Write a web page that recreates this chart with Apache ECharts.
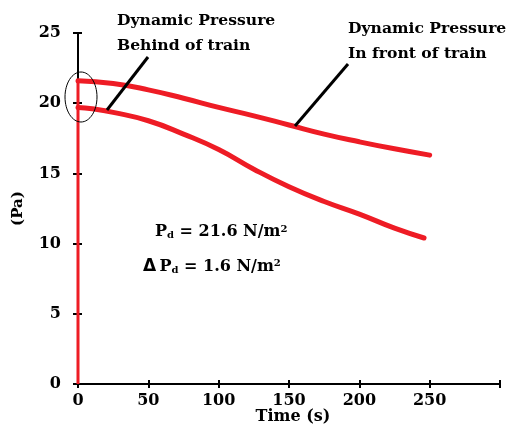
<!DOCTYPE html>
<html><head><meta charset="utf-8">
<script src="https://cdn.jsdelivr.net/npm/echarts@6/dist/echarts.min.js"></script>
<style>html,body{margin:0;padding:0;background:#fff}#c{width:509px;height:426px}</style>
</head><body><div id="c"></div>
<script>
const frontTime = [0, 25, 50, 75, 100, 125, 150, 175, 200, 225, 250];
const frontVals = [21.6, 21.4, 20.95, 20.35, 19.7, 19.1, 18.45, 17.8, 17.25, 16.75, 16.3];
const behindTime = [0, 10, 25, 50, 75, 100, 125, 150, 175, 200, 225, 246];
const behindVals = [19.7, 19.6, 19.35, 18.75, 17.8, 16.7, 15.3, 14.05, 13.0, 12.1, 11.1, 10.4];
const riseTime = [0, 0];
const riseVals = [0, 21.6];
const xTicks = [0, 50, 100, 150, 200, 250, 300];
const yTicks = [0, 5, 10, 15, 20, 25];
const xName = 'Time (s)';
const yName = '(Pa)';

const F = '"DejaVu Serif", serif';
const chart = echarts.init(document.getElementById('c'));
const pair = (xs, ys) => xs.map((x, i) => [x, ys[i]]);
const RED = '#ee1c25';
chart.setOption({
  animation: false,
  grid: {left: 78, right: 9, top: 33, bottom: 42, containLabel: false, outerBoundsMode: 'none'},
  xAxis: [{
    type: 'value', min: 0, max: 300, interval: 50,
    axisLine: {lineStyle: {color: '#000', width: 2}},
    axisTick: {show: true, length: 4, lineStyle: {color: '#000', width: 2}},
    splitLine: {show: false},
    axisLabel: {color: '#000', fontFamily: F, fontWeight: 'bold', fontSize: 16, margin: 9,
      formatter: v => v === 300 ? '' : String(v)}
  }, {
    type: 'value', min: 0, max: 300, interval: 50, position: 'bottom',
    axisLine: {show: false},
    axisTick: {show: true, inside: true, length: 4, lineStyle: {color: '#000', width: 2}},
    axisLabel: {show: false}, splitLine: {show: false}
  }],
  yAxis: [{
    type: 'value', min: 0, max: 25, interval: 5,
    axisLine: {show: true, lineStyle: {color: '#000', width: 2}},
    axisTick: {show: true, length: 5, lineStyle: {color: '#000', width: 2}},
    splitLine: {show: false},
    axisLabel: {color: '#000', fontFamily: F, fontWeight: 'bold', fontSize: 16, margin: 17},
    name: yName, nameLocation: 'middle', nameGap: 52, nameRotate: 90,
    nameTextStyle: {color: '#000', fontFamily: F, fontWeight: 'bold', fontSize: 15}
  }, {
    type: 'value', min: 0, max: 25, interval: 5, position: 'left',
    axisLine: {show: false},
    axisTick: {show: true, inside: true, length: 4, lineStyle: {color: '#000', width: 2}},
    axisLabel: {show: false}, splitLine: {show: false}
  }],
  series: [
    {type: 'line', data: pair(frontTime, frontVals), smooth: true, symbol: 'none',
      lineStyle: {color: RED, width: 5, cap: 'round'}, z: 3},
    {type: 'line', data: pair(behindTime, behindVals), smooth: true, symbol: 'none',
      lineStyle: {color: RED, width: 5, cap: 'round'}, z: 3},
    {type: 'line', data: pair(riseTime, riseVals), symbol: 'none',
      lineStyle: {color: RED, width: 3}, z: 1}
  ],
  graphic: [
    {type: 'text', x: 293, y: 417, style: {text: xName, fill: '#000', font: 'bold 16px ' + F,
      align: 'center', verticalAlign: 'middle'}, z: 10},
    {type: 'ellipse', shape: {cx: 81, cy: 97, rx: 16, ry: 25}, style: {fill: 'none', stroke: '#000', lineWidth: 1}, z: 10},
    {type: 'line', shape: {x1: 148, y1: 57, x2: 107, y2: 110}, style: {stroke: '#000', lineWidth: 3}, z: 10},
    {type: 'line', shape: {x1: 348, y1: 64, x2: 295, y2: 126}, style: {stroke: '#000', lineWidth: 3}, z: 10},
    {type: 'text', left: 117, top: 8, style: {text: 'Dynamic Pressure\nBehind of train', fill: '#000',
      font: 'bold 15.6px ' + F, lineHeight: 25}, z: 10},
    {type: 'text', left: 348, top: 16, style: {text: 'Dynamic Pressure\nIn front of train', fill: '#000',
      font: 'bold 15.6px ' + F, lineHeight: 25}, z: 10},
    {type: 'text', left: 155, top: 224, style: {
      text: '{b|P}{s|d}{b| = 21.6 N/m}{sup|2}',
      rich: {
        b: {fontFamily: F, fontWeight: 'bold', fontSize: 16, fill: '#000', verticalAlign: 'bottom'},
        s: {fontFamily: F, fontWeight: 'bold', fontSize: 10, fill: '#000', verticalAlign: 'bottom'},
        sup: {fontFamily: F, fontWeight: 'bold', fontSize: 10, fill: '#000', verticalAlign: 'top'}
      }}, z: 10},
    {type: 'text', left: 143, top: 258, style: {
      text: '{d|Δ} {b|P}{s|d}{b| = 1.6 N/m}{sup|2}',
      rich: {
        d: {fontFamily: 'DejaVu Sans', fontWeight: 'bold', fontSize: 17, fill: '#000', verticalAlign: 'bottom'},
        b: {fontFamily: F, fontWeight: 'bold', fontSize: 16, fill: '#000', verticalAlign: 'bottom'},
        s: {fontFamily: F, fontWeight: 'bold', fontSize: 10, fill: '#000', verticalAlign: 'bottom'},
        sup: {fontFamily: F, fontWeight: 'bold', fontSize: 10, fill: '#000', verticalAlign: 'top'}
      }}, z: 10}
  ]
});
</script></body></html>
